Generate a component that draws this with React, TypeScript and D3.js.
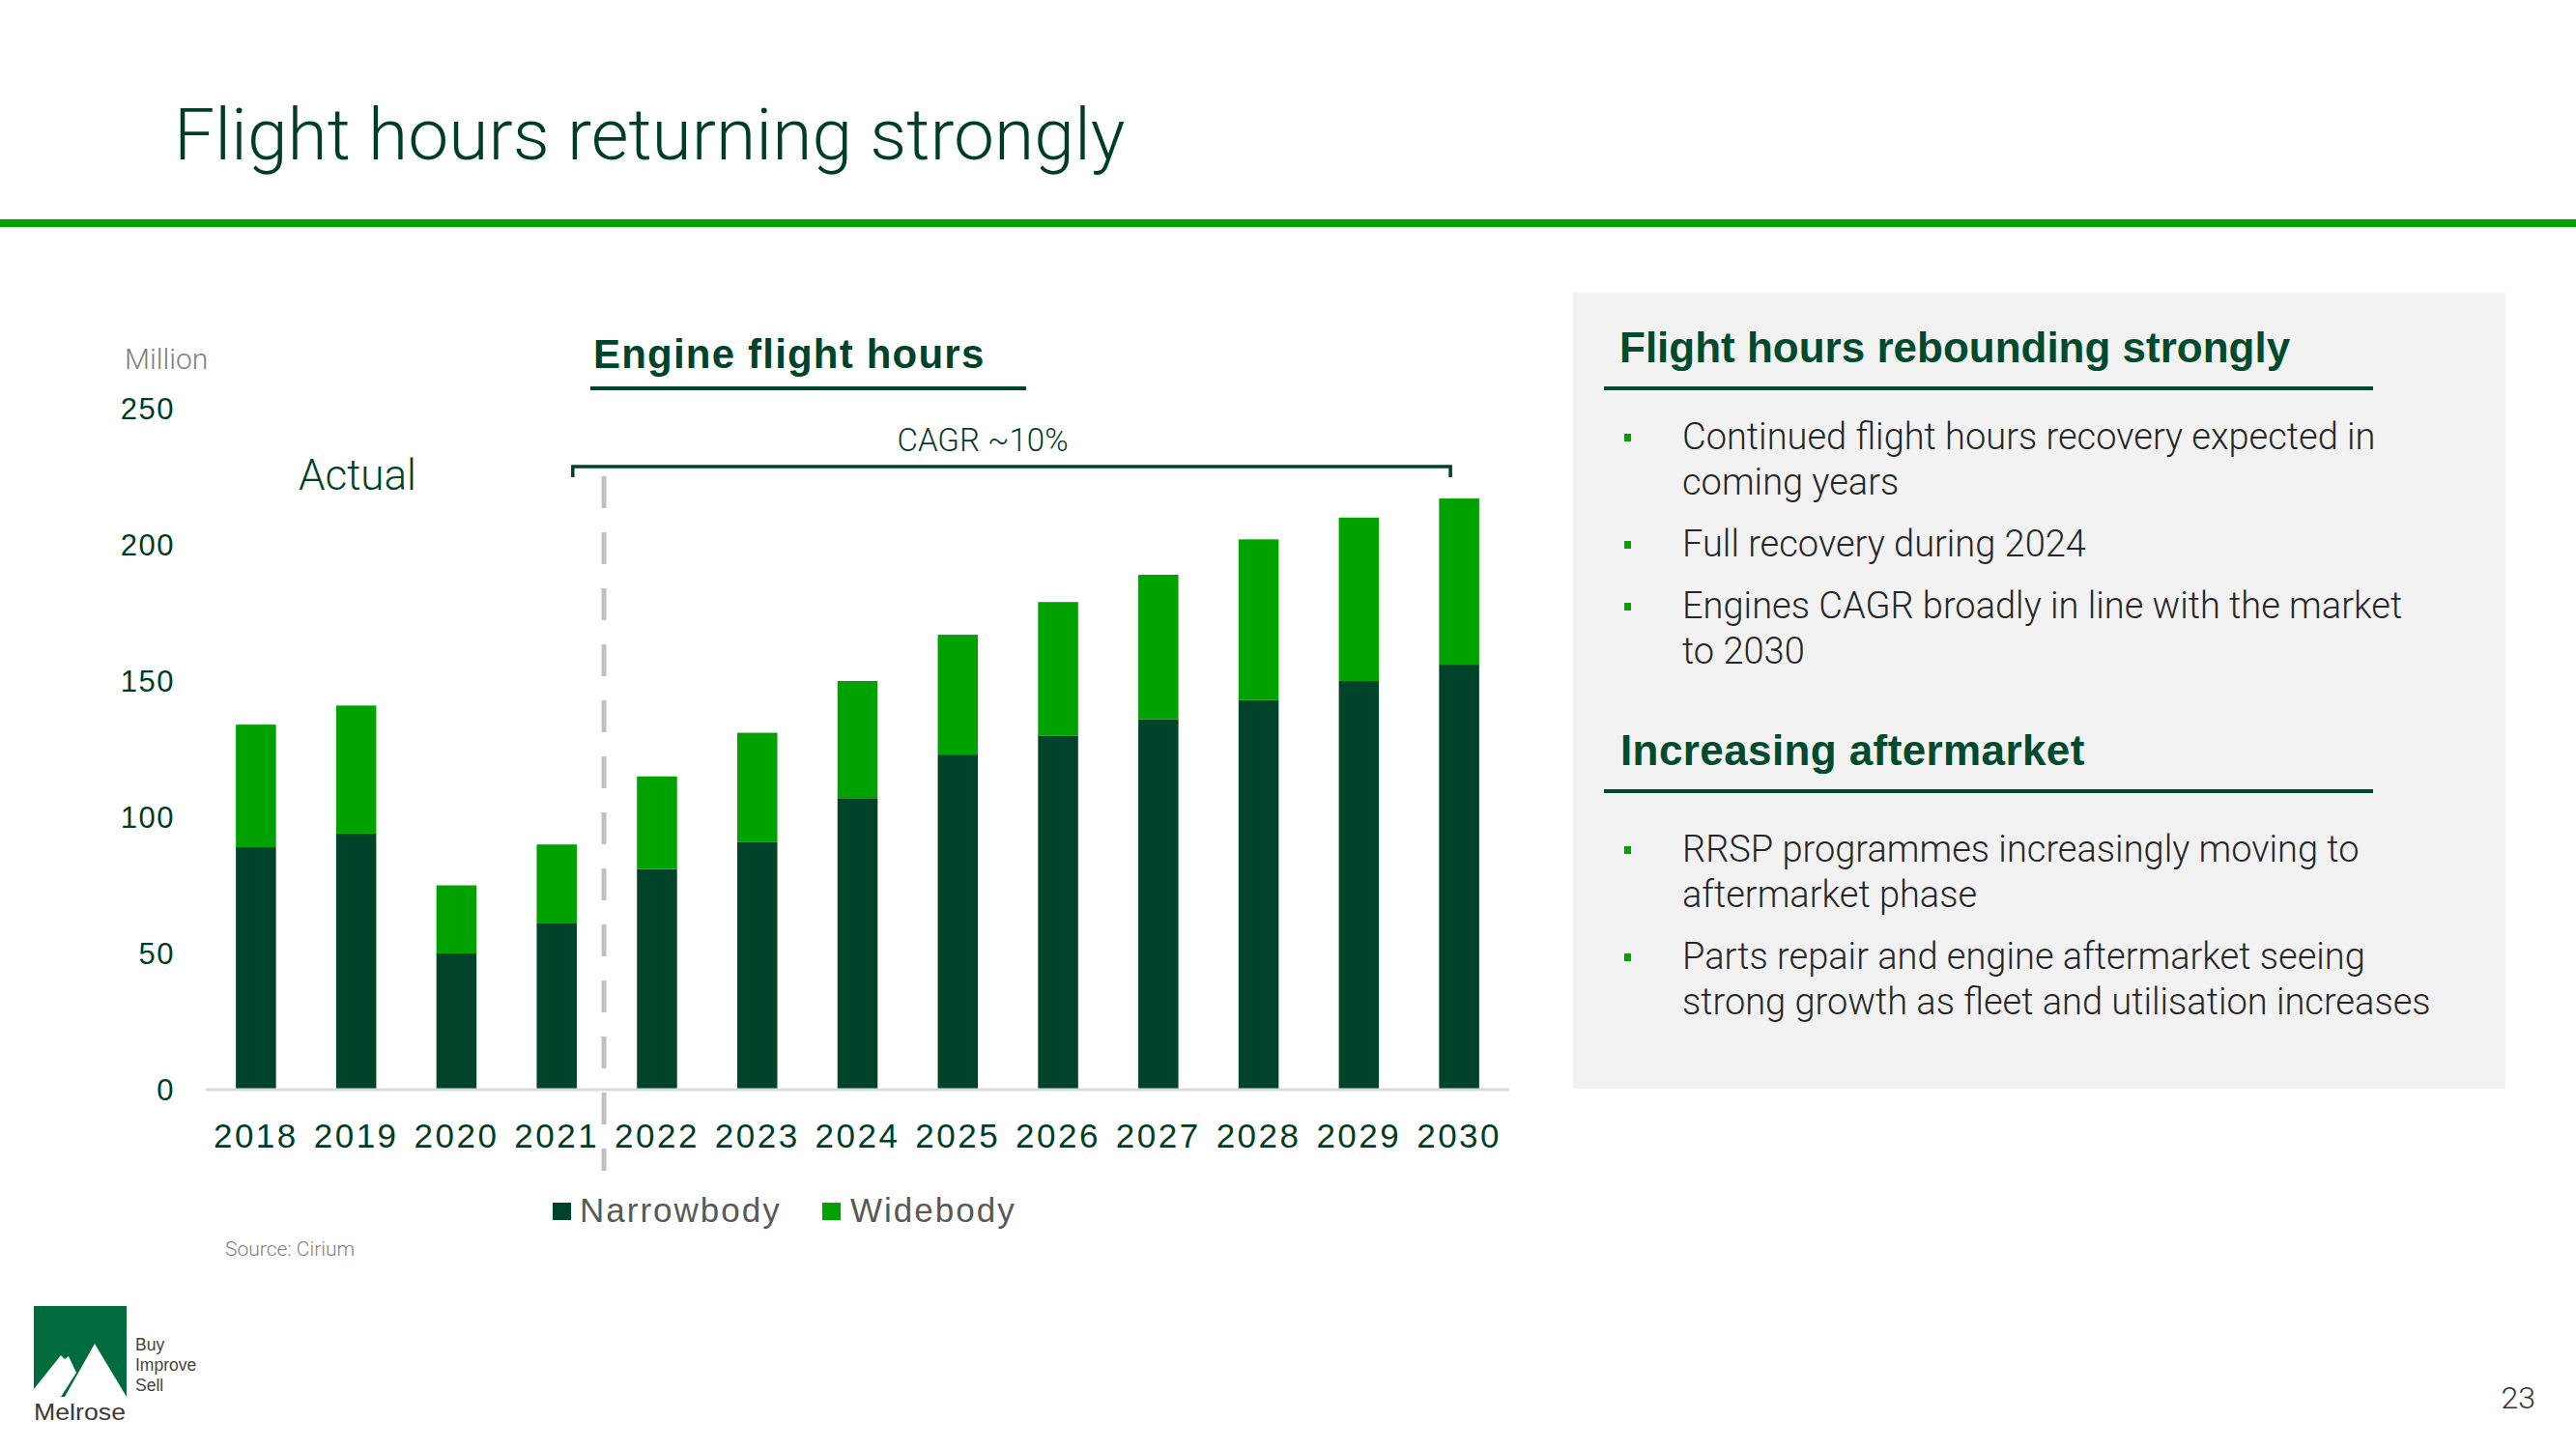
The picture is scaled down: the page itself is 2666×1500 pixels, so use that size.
import React from "react";
import * as d3 from "d3";

const years = ["2018", "2019", "2020", "2021", "2022", "2023", "2024", "2025", "2026", "2027", "2028", "2029", "2030"];
const narrowbody = [89, 94, 50, 61, 81, 91, 107, 123, 130, 136, 143, 150, 156];
const widebody = [45, 47, 25, 29, 34, 40, 43, 44, 49, 53, 59, 60, 61];
const yTicks = [0, 50, 100, 150, 200, 250];
const seriesNames = ["Narrowbody", "Widebody"];

const section1Bullets = [
  ["Continued flight hours recovery expected in", "coming years"],
  ["Full recovery during 2024"],
  ["Engines CAGR broadly in line with the market", "to 2030"],
];
const section2Bullets = [
  ["RRSP programmes increasingly moving to", "aftermarket phase"],
  ["Parts repair and engine aftermarket seeing", "strong growth as fleet and utilisation increases"],
];

const DARK = "#00432b";
const LIGHT = "#00a200";
const LIGHTFONT = "Roboto, 'Liberation Sans', sans-serif";
const ARIAL = "'Liberation Sans', Arial, sans-serif";

function Bullets({ items, startY }: { items: string[][]; startY: number }) {
  let y = startY;
  const out: React.ReactNode[] = [];
  items.forEach((lines, i) => {
    out.push(<rect key={"b" + i} x={1681} y={y - 16} width={7} height={8} fill={LIGHT} />);
    lines.forEach((ln, j) => {
      out.push(
        <text key={"t" + i + "_" + j} x={1741} y={y} fontFamily={LIGHTFONT} fontWeight={300} fontSize={38} fill="#262626">
          {ln}
        </text>
      );
      if (j < lines.length - 1) y += 47;
    });
    y += 64;
  });
  return <g>{out}</g>;
}

export default function App() {
  const x = d3.scaleBand<string>().domain(years).range([213, 1562]).paddingInner(0.6).paddingOuter(0.3);
  const y = d3.scaleLinear().domain([0, 250]).range([1128, 423]);
  const step = x.step();
  const bw = x.bandwidth();
  const cx = (yr: string) => (x(yr) as number) + bw / 2;

  const stackData = years.map((yr, i) => ({ year: yr, Narrowbody: narrowbody[i], Widebody: widebody[i] }));
  const stacked = d3.stack<any>().keys(seriesNames)(stackData);
  const colors = [DARK, LIGHT];

  const dashX = cx("2021") + step / 2 - 3;
  const bracketL = cx("2021") + step * 0.16;
  const bracketR = cx("2030") - 9;
  const bracketY = 483;

  return (
    <svg width={2666} height={1500} style={{ position: "absolute", left: 0, top: 0, background: "#fff" }}>
      <rect x={0} y={0} width={2666} height={1500} fill="#fff" />
      {/* Title */}
      <text x={180} y={165} fontFamily={LIGHTFONT} fontWeight={300} fontSize={75} fill="#003d26">
        Flight hours returning strongly
      </text>
      <rect x={0} y={227} width={2666} height={8} fill="#00a300" />

      {/* Chart header */}
      <text x={129} y={382} fontFamily={LIGHTFONT} fontWeight={300} fontSize={30} fill="#7f7f7f">Million</text>
      <text x={614} y={381} fontFamily={ARIAL} fontWeight={700} fontSize={42} letterSpacing={1.2} fill={DARK}>
        Engine flight hours
      </text>
      <rect x={611} y={400} width={451} height={4} fill={DARK} />
      <text x={309} y={507} fontFamily={LIGHTFONT} fontWeight={300} fontSize={44} fill={DARK}>Actual</text>

      {/* CAGR bracket */}
      <text x={1017} y={467} textAnchor="middle" fontFamily={LIGHTFONT} fontWeight={300} fontSize={33} fill="#0d3b2a">
        CAGR ~10%
      </text>
      <path
        d={`M${bracketL},${bracketY + 11} V${bracketY} H${bracketR} V${bracketY + 11}`}
        fill="none"
        stroke={DARK}
        strokeWidth={3.5}
      />

      {/* Y axis labels */}
      {yTicks.map((t) => (
        <text key={t} x={181} y={y(t)} dy="0.36em" textAnchor="end" fontFamily={ARIAL} fontSize={31} letterSpacing={1.5} fill="#003d26">
          {t}
        </text>
      ))}

      {/* Bars */}
      {stacked.map((s, si) => (
        <g key={s.key}>
          {s.map((d, i) => (
            <rect key={i} x={x(years[i])} y={y(d[1])} width={bw} height={y(d[0]) - y(d[1])} fill={colors[si]} />
          ))}
        </g>
      ))}

      {/* Axis baseline */}
      <line x1={213} x2={1562} y1={y(0)} y2={y(0)} stroke="#d9d9d9" strokeWidth={3} />

      {/* Dashed separator */}
      <line x1={dashX} x2={dashX} y1={493} y2={1212} stroke="#c0c0c0" strokeWidth={5} strokeDasharray="33 25" />

      {/* X labels */}
      {years.map((yr) => (
        <text key={yr} x={cx(yr)} y={1188} textAnchor="middle" fontFamily={ARIAL} fontSize={35} letterSpacing={2.5} fill="#003d26">
          {yr}
        </text>
      ))}

      {/* Legend */}
      <rect x={572} y={1245} width={19} height={18} fill={DARK} />
      <text x={600} y={1265} fontFamily={ARIAL} fontSize={35} letterSpacing={2} fill="#595959">{seriesNames[0]}</text>
      <rect x={851} y={1245} width={19} height={18} fill={LIGHT} />
      <text x={880} y={1265} fontFamily={ARIAL} fontSize={35} letterSpacing={2} fill="#595959">{seriesNames[1]}</text>

      <text x={233} y={1300} fontFamily={LIGHTFONT} fontWeight={300} fontSize={21} fill="#7f7f7f">Source: Cirium</text>

      {/* Right panel */}
      <rect x={1628} y={303} width={965} height={824} fill="#f2f2f2" />
      <text x={1676} y={375} fontFamily={ARIAL} fontWeight={700} fontSize={44} fill="#004a2e">Flight hours rebounding strongly</text>
      <rect x={1660} y={400} width={796} height={4} fill="#004a2e" />
      <Bullets items={section1Bullets} startY={465} />
      <text x={1677} y={792} fontFamily={ARIAL} fontWeight={700} fontSize={44} letterSpacing={0.4} fill="#004a2e">Increasing aftermarket</text>
      <rect x={1660} y={817} width={796} height={4} fill="#004a2e" />
      <Bullets items={section2Bullets} startY={892} />

      {/* Logo */}
      <rect x={35} y={1352} width={96} height={94} fill="#006b3c" />
      <polygon points="35,1446 35,1438 63,1403 67,1407 71,1404 79,1421 63,1446" fill="#fff" />
      <polygon points="67,1446 98,1391 131,1446" fill="#fff" />
      <text x={35} y={1470} fontFamily={ARIAL} fontSize={24} textLength={95} lengthAdjust="spacingAndGlyphs" fill="#3a3a3a">Melrose</text>
      <text x={140} y={1398} fontFamily={ARIAL} fontSize={17.5} fill="#444">Buy</text>
      <text x={140} y={1419} fontFamily={ARIAL} fontSize={17.5} fill="#444">Improve</text>
      <text x={140} y={1440} fontFamily={ARIAL} fontSize={17.5} fill="#444">Sell</text>

      <text x={2624} y={1458} textAnchor="end" fontFamily={LIGHTFONT} fontWeight={300} fontSize={32} fill="#333">23</text>
    </svg>
  );
}
